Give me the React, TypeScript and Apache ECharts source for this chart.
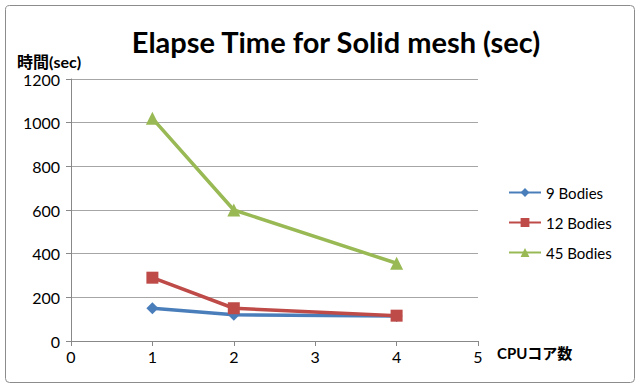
import React, { useEffect, useRef } from "react";
import * as echarts from "echarts";

const cores = [1, 2, 4];
const bodies9 = [150, 120, 115];
const bodies12 = [290, 150, 116];
const bodies45 = [1020, 600, 356];
const seriesNames = ["9 Bodies", "12 Bodies", "45 Bodies"];
const titleText = "Elapse Time for Solid mesh (sec)";
const yName = "時間(sec)";
const xName = "CPUコア数";

export default function App() {
  const ref = useRef<HTMLDivElement>(null);
  useEffect(() => {
    if (!ref.current) return;
    const chart = echarts.init(ref.current, undefined, { renderer: "svg" });
    const font = "Lato, 'Open Sans', 'Noto Sans CJK JP', sans-serif";
    const mk = (vals: number[]) => cores.map((c, i) => [c, vals[i]]);
    chart.setOption({
      animation: false,
      backgroundColor: "#ffffff",
      textStyle: { fontFamily: font },
      title: {
        text: titleText,
        left: 331,
        top: 22,
        textAlign: "center",
        textStyle: { fontFamily: font, fontSize: 29, fontWeight: "bold", color: "#000" },
      },
      graphic: [
        {
          type: "rect",
          shape: { x: 5.5, y: 5.5, width: 629, height: 377, r: 4 },
          style: { fill: "none", stroke: "#8c8c8c", lineWidth: 1 },
          silent: true,
        },
        {
          type: "text",
          x: 17,
          y: 53,
          style: { text: yName, font: `bold 16px ${font}`, fill: "#000" },
        },
        {
          type: "text",
          x: 497,
          y: 345,
          style: { text: xName, font: `bold 15px ${font}`, fill: "#000" },
        },
      ],
      color: ["#4a7ebb", "#be4b48", "#98b954"],
      legend: {
        orient: "vertical",
        left: 503,
        top: 180,
        itemGap: 15,
        itemWidth: 32,
        itemHeight: 11,
        textStyle: { fontFamily: font, fontSize: 15, color: "#000" },
        data: seriesNames,
      },
      grid: { left: 71, right: 162, top: 79, bottom: 50 },
      xAxis: {
        type: "value",
        min: 0,
        max: 5,
        interval: 1,
        axisLine: { show: true, lineStyle: { color: "#888", width: 1 } },
        axisTick: { show: true, inside: false, length: 5, lineStyle: { color: "#888" } },
        axisLabel: { fontSize: 16, color: "#000", margin: 7, fontFamily: font },
        splitLine: { show: false },
      },
      yAxis: {
        type: "value",
        min: 0,
        max: 1200,
        interval: 200,
        axisLine: { show: true, lineStyle: { color: "#888", width: 1 } },
        axisTick: { show: true, length: 5, lineStyle: { color: "#888" } },
        axisLabel: {
          fontSize: 16,
          color: "#000",
          margin: 11,
          fontFamily: font,
          formatter: (v: number) => String(v),
        },
        splitLine: { show: true, lineStyle: { color: "#a6a6a6", width: 1 } },
      },
      series: [
        {
          name: seriesNames[0],
          type: "line",
          data: mk(bodies9),
          symbol: "diamond",
          symbolSize: 12,
          lineStyle: { width: 3.5 },
        },
        {
          name: seriesNames[1],
          type: "line",
          data: mk(bodies12),
          symbol: "rect",
          symbolSize: 12,
          lineStyle: { width: 3.5 },
        },
        {
          name: seriesNames[2],
          type: "line",
          data: mk(bodies45),
          symbol: "triangle",
          symbolSize: 13,
          lineStyle: { width: 3.5 },
        },
      ],
    });
    return () => chart.dispose();
  }, []);
  return <div ref={ref} style={{ width: 640, height: 391, position: "absolute", left: 0, top: 0 }} />;
}
